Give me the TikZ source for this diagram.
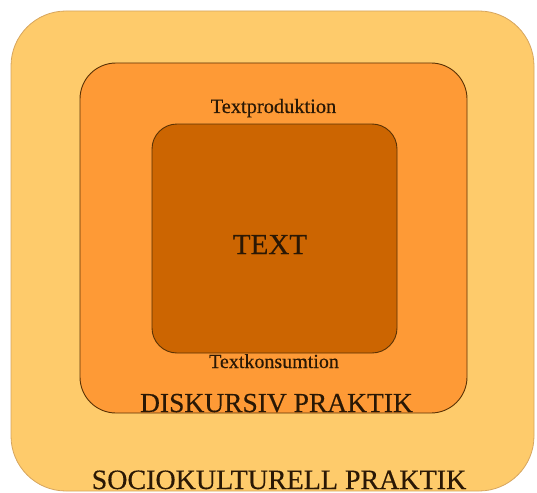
\documentclass[tikz,border=0pt]{standalone}
\usepackage{fontspec}
\setmainfont{Liberation Serif}[FakeBold=0.35]
\definecolor{outerfill}{HTML}{FECB6B}
\definecolor{outerline}{HTML}{D6A55E}
\definecolor{midfill}{HTML}{FE9A36}
\definecolor{innerfill}{HTML}{CC6501}
\definecolor{boxline}{HTML}{5A3205}
\definecolor{txt}{HTML}{2A1805}
\begin{document}
\begin{tikzpicture}[x=1pt,y=-1pt,
  layer/.style={draw, rectangle, inner sep=0pt, outer sep=0pt},
  lbl/.style={anchor=base, inner sep=0pt, text=txt}]
\useasboundingbox (0,0) rectangle (537,492);
\node[layer, draw=outerline, line width=0.8pt, fill=outerfill, rounded corners=55pt,
  minimum width=523pt, minimum height=480pt] (outer) at (272.5,251) {};
\node[layer, draw=boxline, line width=0.9pt, fill=midfill, rounded corners=36pt,
  minimum width=387pt, minimum height=350pt] (mid) at (273.5,238) {};
\node[layer, draw=boxline, line width=0.9pt, fill=innerfill, rounded corners=25pt,
  minimum width=245pt, minimum height=229pt] (inner) at (274.5,238.5) {};
\node[lbl, font=\fontsize{20.4}{22}\selectfont] (prod) at (273.5,113) {Textproduktion};
\node[lbl, font=\fontsize{29}{31}\selectfont] (text) at (270,254) {TEXT};
\node[lbl, font=\fontsize{20}{22}\selectfont] (kons) at (274,368) {Textkonsumtion};
\node[lbl, font=\fontsize{27.5}{30}\selectfont] (disk) at (276.5,412) {DISKURSIV PRAKTIK};
\node[lbl, font=\fontsize{28}{30}\selectfont] (socio) at (279,489) {SOCIOKULTURELL PRAKTIK};
\end{tikzpicture}
\end{document}
